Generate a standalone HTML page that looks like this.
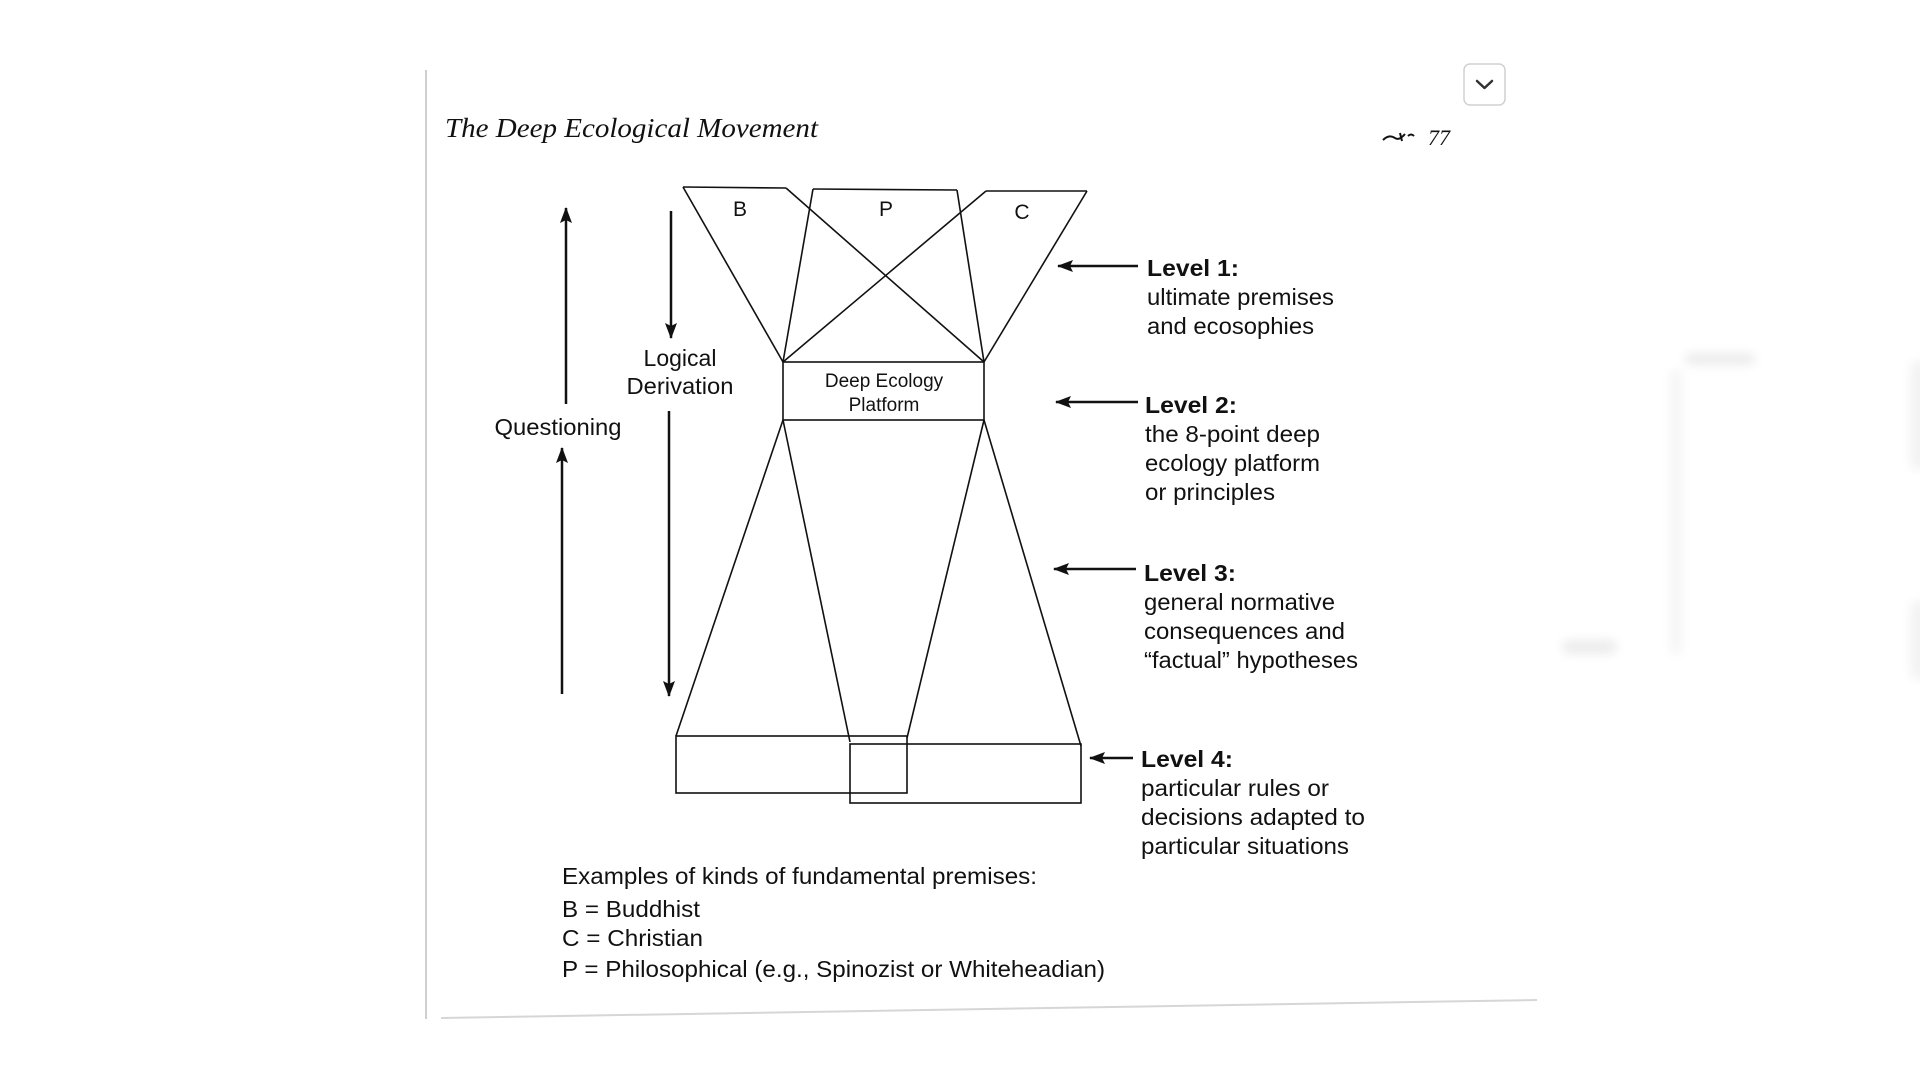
<!DOCTYPE html>
<html><head><meta charset="utf-8"><style>
html,body{margin:0;padding:0;background:#fff;}
body{width:1920px;height:1080px;overflow:hidden;position:relative;}
svg{position:absolute;left:0;top:0;}
</style></head><body>
<svg width="1920" height="1080" viewBox="0 0 1920 1080" xmlns="http://www.w3.org/2000/svg">
<defs>
<marker id="ah" markerWidth="16" markerHeight="12" refX="15" refY="6" orient="auto" markerUnits="userSpaceOnUse">
<path d="M0,0 L16,6 L0,12 L3,6 z" fill="#111"/></marker>
<filter id="bl"><feGaussianBlur stdDeviation="5"/></filter>
</defs>
<g filter="url(#bl)" fill="#ececec">
<rect x="1685" y="353" width="70" height="12" rx="6"/>
<rect x="1562" y="640" width="55" height="14" rx="7"/>
<rect x="1670" y="370" width="12" height="285" rx="6" fill="#f5f5f5"/>
<rect x="1910" y="360" width="20" height="110" rx="10" fill="#f3f3f3"/>
<rect x="1910" y="600" width="20" height="80" rx="10" fill="#f3f3f3"/>
</g>
<line x1="426" y1="70" x2="426" y2="1019" stroke="#cfcfcf" stroke-width="2"/>
<line x1="441" y1="1018" x2="1537" y2="1000" stroke="#d6d6d6" stroke-width="2"/>
<rect x="1464" y="64" width="41" height="41" rx="6" fill="#fff" stroke="#d0d0d0" stroke-width="1.5"/>
<path d="M1477,81 L1484.5,88 L1492,81" fill="none" stroke="#333" stroke-width="2.5" stroke-linecap="round" stroke-linejoin="round"/>
<text x="445" y="137" font-family="Liberation Serif, serif" font-style="italic" font-size="27" fill="#111" textLength="373" lengthAdjust="spacingAndGlyphs">The Deep Ecological Movement</text>
<path d="M1383,140 q6,-6 12,-2 q4,3 10,-4 M1400,133 l2,8 M1408,136 q3,-3 6,0" fill="none" stroke="#111" stroke-width="2"/>
<text x="1428" y="145" font-family="Liberation Serif, serif" font-style="italic" font-size="22" fill="#111">77</text>
<g stroke="#111" stroke-width="1.6" fill="none">
<line x1="683" y1="187" x2="786" y2="188"/>
<line x1="813" y1="189" x2="957" y2="190"/>
<line x1="986" y1="191" x2="1087" y2="191"/>
<line x1="683" y1="187" x2="783" y2="362"/>
<line x1="786" y1="188" x2="984" y2="362"/>
<line x1="813" y1="189" x2="783" y2="362"/>
<line x1="957" y1="190" x2="984" y2="362"/>
<line x1="986" y1="191" x2="783" y2="362"/>
<line x1="1087" y1="191" x2="984" y2="362"/>
<rect x="783" y="362" width="201" height="58"/>
<line x1="783" y1="420" x2="676" y2="736"/>
<line x1="783" y1="420" x2="850" y2="742"/>
<line x1="984" y1="420" x2="907" y2="738"/>
<line x1="984" y1="420" x2="1081" y2="746"/>
<rect x="676" y="736" width="231" height="57"/>
<rect x="850" y="744" width="231" height="59"/>
</g>
<g font-family="Liberation Sans, sans-serif" fill="#111">
<text x="740" y="216" font-size="21" text-anchor="middle">B</text>
<text x="886" y="216" font-size="21" text-anchor="middle">P</text>
<text x="1022" y="219" font-size="21" text-anchor="middle">C</text>
<text x="884" y="387" font-size="19" text-anchor="middle">Deep Ecology</text>
<text x="884" y="411" font-size="19" text-anchor="middle">Platform</text>
<text x="558" y="435" font-size="23" text-anchor="middle" textLength="127" lengthAdjust="spacingAndGlyphs">Questioning</text>
<text x="680" y="366" font-size="23" text-anchor="middle">Logical</text>
<text x="680" y="394" font-size="23" text-anchor="middle" textLength="107" lengthAdjust="spacingAndGlyphs">Derivation</text>
</g>
<g stroke="#111" stroke-width="2.5">
<line x1="566" y1="404" x2="566" y2="208" marker-end="url(#ah)"/>
<line x1="562" y1="694" x2="562" y2="448" marker-end="url(#ah)"/>
<line x1="671" y1="211" x2="671" y2="338" marker-end="url(#ah)"/>
<line x1="669" y1="411" x2="669" y2="696" marker-end="url(#ah)"/>
<line x1="1138" y1="266" x2="1058" y2="266" marker-end="url(#ah)"/>
<line x1="1138" y1="402" x2="1056" y2="402" marker-end="url(#ah)"/>
<line x1="1136" y1="569" x2="1054" y2="569" marker-end="url(#ah)"/>
<line x1="1133" y1="758" x2="1090" y2="758" marker-end="url(#ah)"/>
</g>
<g font-family="Liberation Sans, sans-serif" font-size="23" fill="#111">
<text x="1147" y="276" font-weight="bold" textLength="92" lengthAdjust="spacingAndGlyphs">Level 1:</text>
<text x="1147" y="305" textLength="187" lengthAdjust="spacingAndGlyphs">ultimate premises</text>
<text x="1147" y="334" textLength="167" lengthAdjust="spacingAndGlyphs">and ecosophies</text>
<text x="1145" y="413" font-weight="bold" textLength="92" lengthAdjust="spacingAndGlyphs">Level 2:</text>
<text x="1145" y="442" textLength="175" lengthAdjust="spacingAndGlyphs">the 8-point deep</text>
<text x="1145" y="471" textLength="175" lengthAdjust="spacingAndGlyphs">ecology platform</text>
<text x="1145" y="500" textLength="130" lengthAdjust="spacingAndGlyphs">or principles</text>
<text x="1144" y="581" font-weight="bold" textLength="92" lengthAdjust="spacingAndGlyphs">Level 3:</text>
<text x="1144" y="610" textLength="191" lengthAdjust="spacingAndGlyphs">general normative</text>
<text x="1144" y="639" textLength="201" lengthAdjust="spacingAndGlyphs">consequences and</text>
<text x="1144" y="668" textLength="214" lengthAdjust="spacingAndGlyphs">“factual” hypotheses</text>
<text x="1141" y="767" font-weight="bold" textLength="92" lengthAdjust="spacingAndGlyphs">Level 4:</text>
<text x="1141" y="796" textLength="188" lengthAdjust="spacingAndGlyphs">particular rules or</text>
<text x="1141" y="825" textLength="224" lengthAdjust="spacingAndGlyphs">decisions adapted to</text>
<text x="1141" y="854" textLength="208" lengthAdjust="spacingAndGlyphs">particular situations</text>
<text x="562" y="884" textLength="475" lengthAdjust="spacingAndGlyphs">Examples of kinds of fundamental premises:</text>
<text x="562" y="917" textLength="138" lengthAdjust="spacingAndGlyphs">B = Buddhist</text>
<text x="562" y="946" textLength="141" lengthAdjust="spacingAndGlyphs">C = Christian</text>
<text x="562" y="977" textLength="543" lengthAdjust="spacingAndGlyphs">P = Philosophical (e.g., Spinozist or Whiteheadian)</text>
</g>
</svg>
</body></html>
